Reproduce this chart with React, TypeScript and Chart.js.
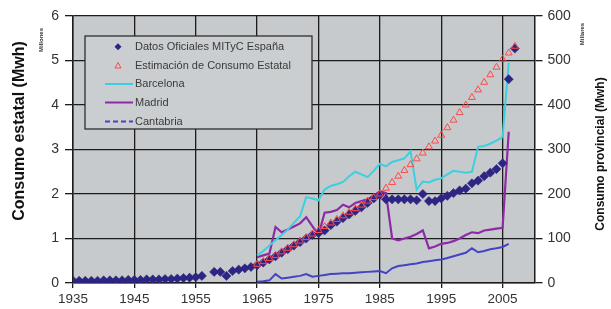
import React, { useEffect, useRef } from "react";
import { Chart, registerables } from "chart.js";
Chart.register(...registerables);

const FONT = "'Liberation Sans', Arial, sans-serif";

// x-axis tick labels
const xTickLabels = [1935, 1945, 1955, 1965, 1975, 1985, 1995, 2005];

// Datos Oficiales MITyC España (millones de Mwh)
const officialYears = [
  1935, 1936, 1937, 1938, 1939, 1940, 1941, 1942, 1943, 1944, 1945, 1946, 1947, 1948, 1949, 1950,
  1951, 1952, 1953, 1954, 1955, 1956,
  1958, 1959, 1960, 1961, 1962, 1963, 1964, 1965,
  1966, 1967, 1968, 1969, 1970, 1971, 1972, 1973, 1974, 1975, 1976, 1977, 1978, 1979, 1980,
  1981, 1982, 1983, 1984, 1985,
  1986, 1987, 1988, 1989, 1990, 1991, 1992, 1993, 1994, 1995, 1996, 1997, 1998, 1999, 2000,
  2001, 2002, 2003, 2004, 2005,
  2006, 2007,
];
const officialValues = [
  0.05, 0.05, 0.05, 0.05, 0.05, 0.06, 0.06, 0.06, 0.06, 0.07, 0.07, 0.07, 0.08, 0.08, 0.08, 0.09,
  0.09, 0.1, 0.11, 0.12, 0.13, 0.16,
  0.25, 0.25, 0.16, 0.27, 0.3, 0.33, 0.36, 0.4,
  0.46, 0.53, 0.6, 0.68, 0.76, 0.84, 0.92, 1.0, 1.08, 1.12, 1.18, 1.3, 1.38, 1.46, 1.54,
  1.62, 1.7, 1.8, 1.9, 1.98,
  1.88, 1.88, 1.88, 1.88, 1.88, 1.86, 2.0, 1.84, 1.84, 1.9, 1.96, 2.02, 2.08, 2.12, 2.24,
  2.3, 2.4, 2.48, 2.56, 2.69,
  4.58, 5.27,
];

// Estimación de Consumo Estatal (millones de Mwh)
const estimateYears = [
  1965, 1966, 1967, 1968, 1969, 1970, 1971, 1972, 1973, 1974, 1975, 1976, 1977, 1978, 1979,
  1980, 1981, 1982, 1983, 1984, 1985, 1986, 1987, 1988, 1989, 1990, 1991, 1992, 1993, 1994,
  1995, 1996, 1997, 1998, 1999, 2000, 2001, 2002, 2003, 2004, 2005, 2006, 2007,
];
const estimateValues = [
  0.42, 0.48, 0.55, 0.62, 0.7, 0.78, 0.86, 0.94, 1.02, 1.1, 1.18, 1.27, 1.35, 1.43, 1.51,
  1.59, 1.67, 1.75, 1.84, 1.92, 2.0, 2.13, 2.26, 2.4, 2.53, 2.66, 2.79, 2.92, 3.06, 3.19,
  3.32, 3.49, 3.66, 3.83, 4.0, 4.17, 4.34, 4.51, 4.68, 4.85, 5.03, 5.17, 5.32,
];

// Provincial series (miles de Mwh)
const provincialYears = [
  1965, 1966, 1967, 1968, 1969, 1970, 1971, 1972, 1973, 1974, 1975, 1976, 1977, 1978, 1979,
  1980, 1981, 1982, 1983, 1984, 1985, 1986, 1987, 1988, 1989, 1990, 1991, 1992, 1993, 1994,
  1995, 1996, 1997, 1998, 1999, 2000, 2001, 2002, 2003, 2004, 2005, 2006,
];
const barcelonaValues = [
  62, 72, 84, 96, 108, 120, 135, 150, 193, 190, 186, 210, 218, 222, 227,
  240, 250, 244, 238, 252, 268, 262, 272, 276, 280, 296, 210, 228, 226, 232,
  235, 244, 252, 250, 248, 250, 306, 308, 313, 320, 328, 495,
];
const madridValues = [
  58, 62, 66, 126, 114, 120, 127, 134, 148, 128, 108, 158, 160, 164, 176,
  170, 180, 184, 188, 196, 206, 202, 100, 96, 100, 104, 110, 118, 78, 82,
  88, 90, 94, 100, 108, 114, 112, 118, 120, 122, 124, 340,
];
const cantabriaValues = [
  3, 4, 6, 20, 10, 12, 14, 16, 20, 14, 16, 18, 20, 21, 22,
  22, 23, 24, 25, 26, 27, 22, 33, 38, 40, 42, 44, 47, 49, 51,
  53, 56, 60, 64, 68, 78, 69, 72, 76, 78, 81, 88,
];

const seriesNames = [
  "Datos Oficiales MITyC España",
  "Estimación de Consumo Estatal",
  "Barcelona",
  "Madrid",
  "Cantabria",
];

const C_OFFICIAL = "#2d2583";
const C_ESTIMATE = "#ff4a4a";
const C_BCN = "#3ccfe0";
const C_MAD = "#8e2aa6";
const C_CANT = "#4343c4";
const GRID = "#1c1c1c";

function pts(xs: number[], ys: number[]) {
  return xs.map((x, i) => ({ x, y: ys[i] }));
}

const decorPlugin = {
  id: "decor",
  beforeDraw(chart: any) {
    const { ctx, chartArea } = chart;
    ctx.save();
    ctx.fillStyle = "#ffffff";
    ctx.fillRect(0, 0, chart.width, chart.height);
    ctx.fillStyle = "#c7cacd";
    ctx.fillRect(chartArea.left, chartArea.top, chartArea.right - chartArea.left, chartArea.bottom - chartArea.top);
    ctx.restore();
  },
  afterDraw(chart: any) {
    const { ctx } = chart;
    const rotText = (t: string, x: number, y: number, font: string, color: string) => {
      ctx.save();
      ctx.translate(x, y);
      ctx.rotate(-Math.PI / 2);
      ctx.font = font;
      ctx.fillStyle = color;
      ctx.textAlign = "center";
      ctx.textBaseline = "middle";
      ctx.fillText(t, 0, 0);
      ctx.restore();
    };
    rotText("Consumo estatal (Mwh)", 20, 131, `bold 16px ${FONT}`, "#111");
    rotText("Millones", 41, 40, `bold 6px ${FONT}`, "#333");
    rotText("Consumo provincial (Mwh)", 601, 154, `bold 12px ${FONT}`, "#111");
    rotText("Millares", 582, 34, `bold 6px ${FONT}`, "#333");

    // legend
    ctx.save();
    ctx.fillStyle = "#cbced1";
    ctx.fillRect(85, 36, 227, 93);
    ctx.strokeStyle = "#222";
    ctx.lineWidth = 1.2;
    ctx.strokeRect(85, 36, 227, 93);
    const rows = [46.7, 65.5, 84, 102.5, 121.5];
    ctx.font = `11px ${FONT}`;
    ctx.fillStyle = "#3a3a3a";
    ctx.textAlign = "left";
    ctx.textBaseline = "middle";
    rows.forEach((y, i) => ctx.fillText(seriesNames[i], 135, y));
    // diamond
    ctx.fillStyle = C_OFFICIAL;
    ctx.beginPath();
    ctx.moveTo(118, rows[0] - 3.5);
    ctx.lineTo(121.5, rows[0]);
    ctx.lineTo(118, rows[0] + 3.5);
    ctx.lineTo(114.5, rows[0]);
    ctx.closePath();
    ctx.fill();
    // triangle
    ctx.strokeStyle = C_ESTIMATE;
    ctx.lineWidth = 1;
    ctx.beginPath();
    ctx.moveTo(118, rows[1] - 3);
    ctx.lineTo(121, rows[1] + 2.5);
    ctx.lineTo(115, rows[1] + 2.5);
    ctx.closePath();
    ctx.stroke();
    // lines
    const line = (y: number, color: string, dash: number[]) => {
      ctx.strokeStyle = color;
      ctx.lineWidth = 2;
      ctx.setLineDash(dash);
      ctx.beginPath();
      ctx.moveTo(105, y);
      ctx.lineTo(133, y);
      ctx.stroke();
      ctx.setLineDash([]);
    };
    line(rows[2], C_BCN, []);
    line(rows[3], C_MAD, []);
    line(rows[4], C_CANT, [5, 3]);
    ctx.restore();
  },
};

export default function App() {
  const ref = useRef<HTMLCanvasElement | null>(null);
  useEffect(() => {
    document.body.style.margin = "0";
    const canvas = ref.current;
    if (!canvas) return;
    const chart = new Chart(canvas, {
      type: "line",
      data: {
        datasets: [
          {
            label: seriesNames[0],
            data: pts(officialYears, officialValues),
            showLine: false,
            pointStyle: "rectRot",
            pointRadius: 4.6,
            pointBackgroundColor: C_OFFICIAL,
            pointBorderColor: C_OFFICIAL,
            pointBorderWidth: 0.5,
            yAxisID: "y",
            order: 1,
          },
          {
            label: seriesNames[1],
            data: pts(estimateYears, estimateValues),
            showLine: false,
            pointStyle: "triangle",
            pointRadius: 4,
            pointBackgroundColor: "rgba(0,0,0,0)",
            pointBorderColor: C_ESTIMATE,
            pointBorderWidth: 1,
            yAxisID: "y",
            order: 0,
          },
          {
            label: seriesNames[2],
            data: pts(provincialYears, barcelonaValues),
            borderColor: C_BCN,
            borderWidth: 2,
            pointRadius: 0,
            yAxisID: "y1",
            order: 2,
          },
          {
            label: seriesNames[3],
            data: pts(provincialYears, madridValues),
            borderColor: C_MAD,
            borderWidth: 2.2,
            pointRadius: 0,
            yAxisID: "y1",
            order: 3,
          },
          {
            label: seriesNames[4],
            data: pts(provincialYears, cantabriaValues),
            borderColor: C_CANT,
            borderWidth: 2,
            pointRadius: 0,
            yAxisID: "y1",
            order: 4,
          },
        ],
      },
      options: {
        animation: false,
        responsive: false,
        events: [],
        layout: { padding: { top: 16, left: 0, right: 0, bottom: 0 } },
        plugins: { legend: { display: false }, tooltip: { enabled: false }, title: { display: false } },
        scales: {
          x: {
            type: "linear",
            min: 1935,
            max: 2010.2,
            afterBuildTicks: (s: any) => {
              s.ticks = xTickLabels.map((v) => ({ value: v }));
            },
            afterFit: (s: any) => {
              s.height = 26;
            },
            ticks: {
              autoSkip: false,
              maxRotation: 0,
              callback: (v: any) => String(v),
              font: { size: 13.5, family: FONT },
              color: "#333",
              padding: 3,
            },
            grid: { color: GRID, lineWidth: 1.3, tickLength: 5 },
            border: { color: GRID, width: 1.5 },
          },
          y: {
            type: "linear",
            position: "left",
            min: 0,
            max: 6,
            afterFit: (s: any) => {
              s.width = 73;
            },
            ticks: { stepSize: 1, font: { size: 14, family: FONT }, color: "#333", padding: 6 },
            grid: { color: GRID, lineWidth: 1.3, tickLength: 8 },
            border: { color: GRID, width: 1.5 },
          },
          y1: {
            type: "linear",
            position: "right",
            min: 0,
            max: 600,
            afterFit: (s: any) => {
              s.width = 76.5;
            },
            ticks: { stepSize: 100, font: { size: 14, family: FONT }, color: "#333", padding: 5 },
            grid: { drawOnChartArea: false, color: GRID, lineWidth: 1.3, tickLength: 8 },
            border: { color: GRID, width: 1.5 },
          },
        },
      },
      plugins: [decorPlugin],
    } as any);
    return () => chart.destroy();
  }, []);
  return (
    <div style={{ position: "absolute", left: 0, top: 0, width: 611, height: 309, background: "#fff" }}>
      <canvas ref={ref} width={611} height={309} style={{ width: 611, height: 309, display: "block" }} />
    </div>
  );
}
